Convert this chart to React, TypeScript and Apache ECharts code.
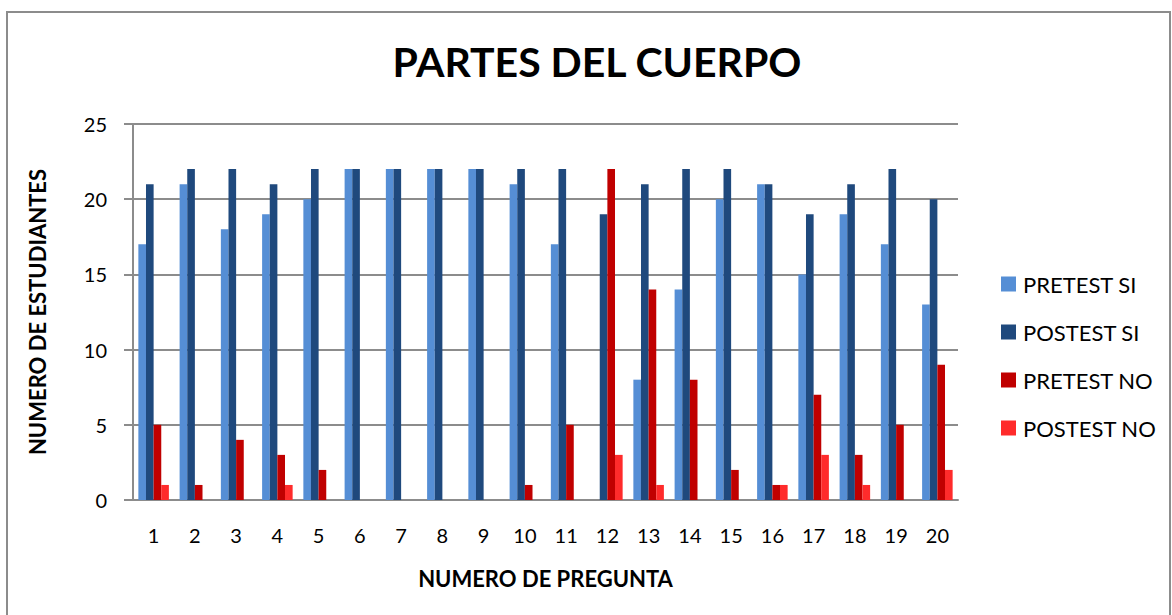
import React, { useEffect, useRef } from "react";
import * as echarts from "echarts";

const categories = ["1","2","3","4","5","6","7","8","9","10","11","12","13","14","15","16","17","18","19","20"];
const pretestSi = [17,21,18,19,20,22,22,22,22,21,17,0,8,14,20,21,15,19,17,13];
const postestSi = [21,22,22,21,22,22,22,22,22,22,22,19,21,22,22,21,19,21,22,20];
const pretestNo = [5,1,4,3,2,0,0,0,0,1,5,22,14,8,2,1,7,3,5,9];
const postestNo = [1,0,0,1,0,0,0,0,0,0,0,3,1,0,0,1,3,1,0,2];
const seriesNames = ["PRETEST SI","POSTEST SI","PRETEST NO","POSTEST NO"];
const colors = ["#558ED5","#1F497D","#C00000","#FF2B2B"];

const FONT = "Lato, 'Open Sans', sans-serif";

export default function App() {
  const ref = useRef<HTMLDivElement>(null);
  useEffect(() => {
    if (!ref.current) return;
    const chart = echarts.init(ref.current, undefined, { renderer: "svg" });
    const data = [pretestSi, postestSi, pretestNo, postestNo];
    chart.setOption({
      animation: false,
      backgroundColor: "#ffffff",
      title: {
        text: "PARTES DEL CUERPO",
        left: 592,
        top: 36,
        textAlign: "center",
        textStyle: { fontFamily: FONT, fontSize: 41, fontWeight: "bold", color: "#000" },
      },
      graphic: [
        {
          type: "rect",
          shape: { x: 7, y: 12, width: 1163, height: 640 },
          style: { fill: "none", stroke: "#8c8c8c", lineWidth: 2 },
          silent: true,
        },
      ],
      legend: {
        orient: "vertical",
        left: 996,
        top: 268,
        itemWidth: 15,
        itemHeight: 15,
        itemGap: 26,
        icon: "rect",
        textStyle: { fontFamily: FONT, fontSize: 22, color: "#000", padding: [0, 0, 0, 2] },
        data: seriesNames,
      },
      grid: { left: 133, right: 214, top: 124, bottom: 115, containLabel: false },
      xAxis: {
        type: "category",
        data: categories,
        name: "NUMERO DE PREGUNTA",
        nameLocation: "middle",
        nameGap: 67,
        nameTextStyle: { fontFamily: FONT, fontSize: 22, fontWeight: "bold", color: "#000" },
        axisLine: { lineStyle: { color: "#8c8c8c", width: 2 } },
        axisTick: { show: false },
        axisLabel: { fontFamily: FONT, fontSize: 20, color: "#000", margin: 25 },
      },
      yAxis: {
        type: "value",
        min: 0,
        max: 25,
        interval: 5,
        name: "NUMERO DE ESTUDIANTES",
        nameLocation: "middle",
        nameGap: 85,
        nameRotate: 90,
        nameTextStyle: { fontFamily: FONT, fontSize: 22, fontWeight: "bold", color: "#000" },
        axisLine: { show: true, lineStyle: { color: "#8c8c8c", width: 2 } },
        axisTick: { show: true, length: 9, lineStyle: { color: "#8c8c8c", width: 2 } },
        axisLabel: { fontFamily: FONT, fontSize: 20, color: "#000", margin: 26 },
        splitLine: { lineStyle: { color: "#8c8c8c", width: 2 } },
      },
      series: seriesNames.map((name, i) => ({
        name,
        type: "bar",
        data: data[i],
        barGap: "0%",
        barCategoryGap: "26%",
        itemStyle: { color: colors[i] },
      })),
    });
    return () => chart.dispose();
  }, []);
  return <div ref={ref} style={{ width: 1172, height: 615, position: "absolute", left: 0, top: 0 }} />;
}
